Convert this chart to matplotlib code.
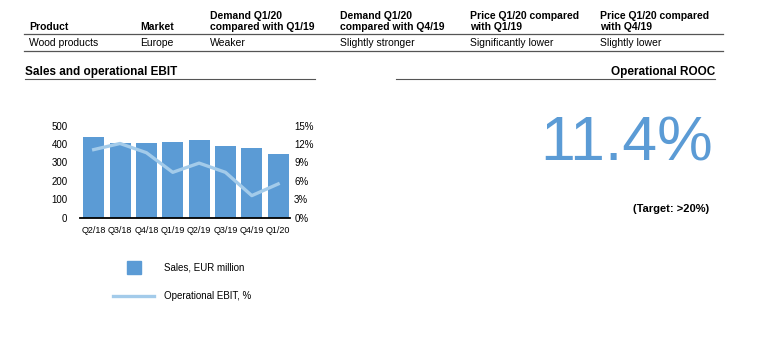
import matplotlib
matplotlib.use("Agg")
from matplotlib import pyplot as plt
from matplotlib.lines import Line2D
import numpy as np

plt.rcParams['font.family'] = ['Liberation Sans', 'DejaVu Sans']

# table
headers = ["Product", "Market", "Demand Q1/20\ncompared with Q1/19", "Demand Q1/20\ncompared with Q4/19",
           "Price Q1/20 compared\nwith Q1/19", "Price Q1/20 compared\nwith Q4/19"]
row = ["Wood products", "Europe", "Weaker", "Slightly stronger", "Significantly lower", "Slightly lower"]

# chart data
quarters = ["Q2/18", "Q3/18", "Q4/18", "Q1/19", "Q2/19", "Q3/19", "Q4/19", "Q1/20"]
sales = [440, 408, 408, 411, 420, 390, 380, 346]
ebit = [11.1, 12.1, 10.6, 7.4, 8.9, 7.4, 3.6, 5.5]
rooc = "11.4%"
target = "(Target: >20%)"

BLUE = "#5b9bd5"
LIGHT = "#a3cbea"

W, H = 760, 354
fig = plt.figure(figsize=(7.6, 3.54), dpi=100)

def fx(x):
    return x / W

def fy(y):
    return 1 - y / H

col_x = [29, 140, 210, 340, 470, 600]
for x, h, r in zip(col_x, headers, row):
    fig.text(fx(x), fy(32), h, fontsize=7.5, fontweight='bold', va='bottom', ha='left', linespacing=1.15)
    fig.text(fx(x), fy(43), r, fontsize=7.5, va='center', ha='left')
for y in (34, 50.5):
    fig.add_artist(Line2D([fx(24), fx(723)], [fy(y), fy(y)], color='#555555', lw=0.9))

# section titles
fig.text(fx(25), fy(72), "Sales and operational EBIT", fontsize=8.5, fontweight='bold', va='center')
fig.add_artist(Line2D([fx(25), fx(315)], [fy(78.5), fy(78.5)], color='#555555', lw=0.8))
fig.text(fx(715), fy(72), "Operational ROOC", fontsize=8.5, fontweight='bold', va='center', ha='right')
fig.add_artist(Line2D([fx(396), fx(715)], [fy(78.5), fy(78.5)], color='#555555', lw=0.8))

fig.text(fx(713), fy(144), rooc, fontsize=45, color=BLUE, va='center', ha='right')
fig.text(fx(709), fy(209), target, fontsize=8, fontweight='bold', va='center', ha='right')

# chart
ax = fig.add_axes([fx(80), fy(217.7), fx(210), 92 / H])
x = np.arange(len(quarters))
ax.bar(x, sales, width=0.8, color=BLUE, zorder=2)
ax.set_ylim(0, 500)
ax.set_yticks(range(0, 501, 100))
ax.set_xlim(-0.52, 7.45)
ax.set_xticks(x)
ax.set_xticklabels(quarters, fontsize=6.5)
for s in ('top', 'left', 'right'):
    ax.spines[s].set_visible(False)
ax.spines['bottom'].set_linewidth(1.3)
ax.tick_params(axis='y', length=0, pad=9, labelsize=7)
ax.tick_params(axis='x', length=0, pad=6)

ax2 = ax.twinx()
ax2.plot(x, ebit, color=LIGHT, lw=2.4, zorder=3)
ax2.set_ylim(0, 15)
ax2.set_yticks(range(0, 16, 3))
ax2.set_yticklabels([f"{v}%" for v in range(0, 16, 3)])
ax2.tick_params(axis='y', length=0, pad=3, labelsize=7)
for s in ax2.spines.values():
    s.set_visible(False)

# legend
fig.add_artist(plt.Rectangle((fx(127), fy(274)), fx(14), 13 / H, color=BLUE))
fig.text(fx(164), fy(268), "Sales, EUR million", fontsize=7, va='center')
fig.add_artist(Line2D([fx(113), fx(154)], [fy(296), fy(296)], color=LIGHT, lw=2.4))
fig.text(fx(164), fy(296), "Operational EBIT, %", fontsize=7, va='center')

fig.savefig("out.png", dpi=100)
